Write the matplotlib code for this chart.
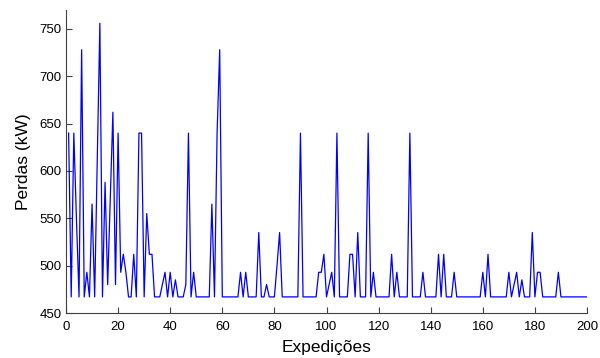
import numpy as np
import matplotlib
matplotlib.use("Agg")
import matplotlib.pyplot as plt

plt.rcParams['font.family'] = ['Liberation Sans', 'DejaVu Sans']

# expedition number and losses (kW)
expedicoes = np.arange(1, 201)
perdas = [
    640, 467, 640, 550, 467, 728, 467, 493, 467, 565,   # 1-10
    467, 610, 756, 467, 588, 480, 570, 662, 480, 640,   # 11-20
    493, 512, 493, 467, 467, 512, 467, 640, 640, 467,   # 21-30
    555, 512, 512, 467, 467, 467, 480, 493, 467, 493,   # 31-40
    467, 485, 467, 467, 467, 480, 640, 467, 493, 467,   # 41-50
    467, 467, 467, 467, 467, 565, 467, 640, 728, 467,   # 51-60
    467, 467, 467, 467, 467, 467, 493, 467, 493, 467,   # 61-70
    467, 467, 467, 535, 467, 467, 480, 467, 467, 467,   # 71-80
    500, 535, 467, 467, 467, 467, 467, 467, 467, 640,   # 81-90
    467, 467, 467, 467, 467, 467, 493, 493, 512, 467,   # 91-100
    480, 493, 467, 640, 467, 467, 467, 467, 512, 512,   # 101-110
    467, 535, 467, 467, 467, 640, 467, 493, 467, 467,   # 111-120
    467, 467, 467, 467, 512, 467, 493, 467, 467, 467,   # 121-130
    467, 640, 467, 467, 467, 467, 493, 467, 467, 467,   # 131-140
    467, 467, 512, 467, 512, 467, 467, 467, 493, 467,   # 141-150
    467, 467, 467, 467, 467, 467, 467, 467, 467, 493,   # 151-160
    467, 512, 467, 467, 467, 467, 467, 467, 467, 493,   # 161-170
    467, 480, 493, 467, 485, 467, 467, 467, 535, 467,   # 171-180
    493, 493, 467, 467, 467, 467, 467, 467, 493, 467,   # 181-190
    467, 467, 467, 467, 467, 467, 467, 467, 467, 467,   # 191-200
]
x_ticks = list(range(0, 201, 20))
y_ticks = list(range(450, 751, 50))

fig = plt.figure(figsize=(6.0, 3.58), dpi=100)
ax = fig.add_axes([66 / 600, 1 - 313 / 358, 521 / 600, 303 / 358])

ax.plot(expedicoes, perdas, color='#0000ff', linewidth=0.9)

ax.set_xlim(0, 200)
ax.set_ylim(450, 770)
ax.set_xticks(x_ticks)
ax.set_yticks(y_ticks)

# MATLAB style: box off, ticks pointing in
for side in ['top', 'right']:
    ax.spines[side].set_visible(False)
for side in ['left', 'bottom']:
    ax.spines[side].set_color('#404040')
    ax.spines[side].set_linewidth(0.8)
ax.tick_params(direction='in', length=4, width=0.8, color='#404040',
               labelsize=9.5)
ax.tick_params(axis='x', pad=6)
ax.tick_params(axis='y', pad=3)

ax.set_xlabel('Expedições', fontsize=12.5, labelpad=5)
ax.set_ylabel('Perdas (kW)', fontsize=12.5, labelpad=6)

fig.savefig('out.png', dpi=100)
